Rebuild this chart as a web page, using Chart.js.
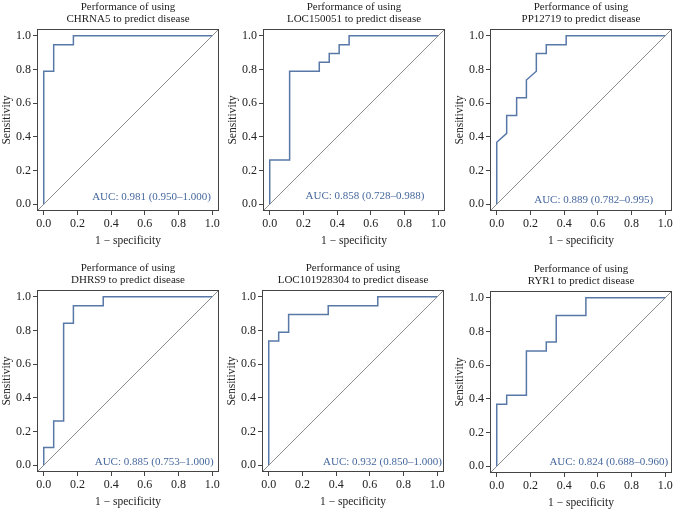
<!DOCTYPE html>
<html>
<head>
<meta charset="utf-8">
<script src="https://cdn.jsdelivr.net/npm/chart.js@4.4.1/dist/chart.umd.min.js"></script>
<style>
  html, body { margin: 0; padding: 0; background: #fff; width: 674px; height: 509px; overflow: hidden; }
  .panel { position: absolute; }
</style>
</head>
<body>
<div class="panel" id="p0"><canvas id="c0"></canvas></div>
<div class="panel" id="p1"><canvas id="c1"></canvas></div>
<div class="panel" id="p2"><canvas id="c2"></canvas></div>
<div class="panel" id="p3"><canvas id="c3"></canvas></div>
<div class="panel" id="p4"><canvas id="c4"></canvas></div>
<div class="panel" id="p5"><canvas id="c5"></canvas></div>
<script>
// Genes (one panel each)
const genes = ['CHRNA5', 'LOC150051', 'PP12719', 'DHRS9', 'LOC101928304', 'RYR1'];

// ROC curves: 1 - specificity (x) and sensitivity (y)
const fprCHRNA5 = [0, 0, 0.059, 0.059, 0.176, 0.176, 1];
const tprCHRNA5 = [0, 0.789, 0.789, 0.947, 0.947, 1, 1];

const fprLOC150051 = [0, 0, 0.118, 0.118, 0.294, 0.294, 0.353, 0.353, 0.412, 0.412, 0.471, 0.471, 1];
const tprLOC150051 = [0, 0.263, 0.263, 0.789, 0.789, 0.842, 0.842, 0.895, 0.895, 0.947, 0.947, 1, 1];

const fprPP12719 = [0, 0, 0.059, 0.059, 0.118, 0.118, 0.176, 0.176, 0.235, 0.235, 0.294, 0.294, 0.412, 0.412, 1];
const tprPP12719 = [0, 0.368, 0.421, 0.526, 0.526, 0.632, 0.632, 0.737, 0.789, 0.895, 0.895, 0.947, 0.947, 1, 1];

const fprDHRS9 = [0, 0, 0.059, 0.059, 0.118, 0.118, 0.176, 0.176, 0.353, 0.353, 1];
const tprDHRS9 = [0, 0.105, 0.105, 0.263, 0.263, 0.842, 0.842, 0.947, 0.947, 1, 1];

const fprLOC101928304 = [0, 0, 0.059, 0.059, 0.118, 0.118, 0.353, 0.353, 0.647, 0.647, 1];
const tprLOC101928304 = [0, 0.737, 0.737, 0.789, 0.789, 0.895, 0.895, 0.947, 0.947, 1, 1];

const fprRYR1 = [0, 0, 0.059, 0.059, 0.176, 0.176, 0.294, 0.294, 0.353, 0.353, 0.529, 0.529, 1];
const tprRYR1 = [0, 0.368, 0.368, 0.421, 0.421, 0.684, 0.684, 0.737, 0.737, 0.895, 0.895, 1, 1];

const fprList = [fprCHRNA5, fprLOC150051, fprPP12719, fprDHRS9, fprLOC101928304, fprRYR1];
const tprList = [tprCHRNA5, tprLOC150051, tprPP12719, tprDHRS9, tprLOC101928304, tprRYR1];

// AUC values with 95% CI
const aucValues = ['0.981', '0.858', '0.889', '0.885', '0.932', '0.824'];
const aucLower = ['0.950', '0.728', '0.782', '0.753', '0.850', '0.688'];
const aucUpper = ['1.000', '0.988', '0.995', '1.000', '1.000', '0.960'];

// Tick labels on both axes
const tickValues = [0, 0.2, 0.4, 0.6, 0.8, 1.0];

// Layout (box position of each panel, AUC label anchor)
const boxLeft = [37, 263, 490, 37, 262, 490];
const boxTop = [29, 29, 29, 290, 290, 291];
const boxSize = 182;
const aucAnchor = [[0.64, 0.045], [0.565, 0.05], [0.575, 0.025], [0.655, 0.02], [0.675, 0.02], [0.665, 0.025]];

const FONT = "'Liberation Serif', 'DejaVu Serif', serif";
const LINE_COLOR = '#5878a8';
const AUC_COLOR = '#46689e';
const AXIS_COLOR = '#444';

// Draws the closed box around the plot region and the AUC label
const boxAucPlugin = {
    id: 'boxAuc',
    afterDatasetsDraw(chart, args, opts) {
        const ctx = chart.ctx;
        const a = chart.chartArea;
        ctx.save();
        ctx.strokeStyle = AXIS_COLOR;
        ctx.lineWidth = 1;
        ctx.strokeRect(Math.round(a.left) + 0.5, Math.round(a.top) + 0.5,
            Math.round(a.right - a.left) - 1, Math.round(a.bottom - a.top) - 1);

        const x = chart.scales.x.getPixelForValue(opts.pos[0]);
        const y = chart.scales.y.getPixelForValue(opts.pos[1]);
        ctx.fillStyle = AUC_COLOR;
        ctx.font = '11px ' + FONT;
        ctx.textAlign = 'center';
        ctx.textBaseline = 'middle';
        ctx.fillText(opts.text, x, y);
        ctx.restore();
    }
};

function buildAxis(titleText, isX) {
    return {
        type: 'linear',
        min: -0.04,
        max: 1.04,
        afterBuildTicks: scale => {
            scale.ticks = tickValues.map(v => ({ value: v }));
        },
        afterFit: scale => {
            if (isX) scale.height = 38; else scale.width = 37;
        },
        grid: {
            drawOnChartArea: false,
            drawTicks: true,
            tickLength: 4,
            color: AXIS_COLOR
        },
        border: { display: false },
        ticks: {
            color: '#222',
            padding: 2,
            maxRotation: 0,
            font: { family: FONT, size: 12 },
            callback: v => v.toFixed(1)
        },
        title: {
            display: true,
            text: titleText,
            color: '#222',
            padding: isX ? { top: 0, bottom: 1 } : { top: 0, bottom: 0 },
            font: { family: FONT, size: 11.5 }
        }
    };
}

function initPanel(i) {
    const wrap = document.getElementById('p' + i);
    const width = 37 + boxSize + 3;
    const height = 29 + boxSize + 38;
    wrap.style.left = (boxLeft[i] - 37) + 'px';
    wrap.style.top = (boxTop[i] - 29) + 'px';
    wrap.style.width = width + 'px';
    wrap.style.height = height + 'px';

    const rocPoints = fprList[i].map((x, k) => ({ x: x, y: tprList[i][k] }));
    const diagPoints = [{ x: -0.04, y: -0.04 }, { x: 1.04, y: 1.04 }];

    new Chart(document.getElementById('c' + i), {
        type: 'scatter',
        data: {
            datasets: [
                {
                    data: diagPoints,
                    showLine: true,
                    borderColor: '#8c8c8c',
                    borderWidth: 1,
                    pointRadius: 0
                },
                {
                    data: rocPoints,
                    showLine: true,
                    borderColor: LINE_COLOR,
                    borderWidth: 1.5,
                    pointRadius: 0,
                    tension: 0
                }
            ]
        },
        options: {
            responsive: true,
            maintainAspectRatio: false,
            animation: false,
            layout: { padding: { left: 0, right: 3, top: 0, bottom: 0 } },
            scales: {
                x: buildAxis('1 \u2212 specificity', true),
                y: buildAxis('Sensitivity', false)
            },
            plugins: {
                legend: { display: false },
                tooltip: { enabled: false },
                title: {
                    display: true,
                    fullSize: false,
                    text: ['Performance of using', genes[i] + ' to predict disease'],
                    color: '#222',
                    font: { family: FONT, size: 11, weight: 'normal', lineHeight: 1.09 },
                    padding: { top: 1, bottom: 4 }
                },
                boxAuc: {
                    pos: aucAnchor[i],
                    text: 'AUC: ' + aucValues[i] + ' (' + aucLower[i] + '\u2013' + aucUpper[i] + ')'
                }
            }
        },
        plugins: [boxAucPlugin]
    });
}

genes.forEach((g, i) => initPanel(i));
</script>
</body>
</html>
